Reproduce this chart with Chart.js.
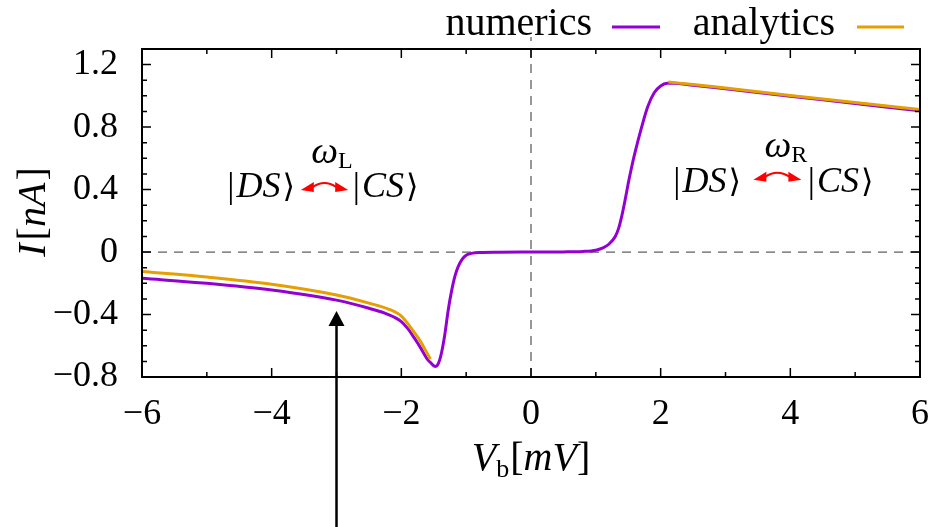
<!DOCTYPE html>
<html>
<head>
<meta charset="utf-8">
<script src="https://cdn.jsdelivr.net/npm/chart.js@4.4.1/dist/chart.umd.min.js"></script>
<style>
  html, body { margin: 0; padding: 0; background: #fff; }
  #wrap { width: 928px; height: 527px; }
</style>
</head>
<body>
<div id="wrap"><canvas id="ivChart"></canvas></div>
<script>
// bias voltage V_b [mV] and current I [nA]
var numX = [-6, -5, -4, -3, -2.5, -2.2, -2, -1.9, -1.8, -1.7, -1.6, -1.54, -1.5, -1.47, -1.43, -1.38, -1.33, -1.28, -1.23, -1.17, -1.12, -1.06, -1.0, -0.9, -0.8, -0.5, 0, 0.5, 0.8, 1.0, 1.1, 1.2, 1.3, 1.35, 1.4, 1.45, 1.5, 1.55, 1.6, 1.7, 1.8, 1.9, 2.0, 2.1, 2.2, 2.5, 3, 4, 5, 6];
var numY = [-0.168, -0.200, -0.243, -0.308, -0.360, -0.400, -0.445, -0.490, -0.550, -0.615, -0.685, -0.712, -0.728, -0.732, -0.715, -0.645, -0.530, -0.380, -0.260, -0.150, -0.090, -0.045, -0.020, -0.007, -0.003, -0.001, 0, 0.001, 0.004, 0.012, 0.025, 0.050, 0.100, 0.150, 0.230, 0.330, 0.440, 0.540, 0.630, 0.790, 0.930, 1.020, 1.063, 1.080, 1.081, 1.068, 1.045, 0.998, 0.951, 0.904];

var anaLeftX = [-6, -5, -4, -3, -2.5, -2.2, -2, -1.9, -1.8, -1.7, -1.6, -1.55];
var anaLeftY = [-0.125, -0.160, -0.206, -0.275, -0.327, -0.365, -0.410, -0.458, -0.515, -0.575, -0.650, -0.685];
var anaRightX = [2.12, 2.5, 3, 4, 5, 6];
var anaRightY = [1.088, 1.073, 1.050, 1.003, 0.957, 0.912];

var xTicks = [-6, -4, -2, 0, 2, 4, 6];
var yTicks = [-0.8, -0.4, 0, 0.4, 0.8, 1.2];

var serif = '"Liberation Serif", "DejaVu Serif", serif';

function pts(xs, ys) {
    return xs.map(function (x, i) { return { x: x, y: ys[i] }; });
}
// left and right branches of the analytic curve, with a gap between
var anaPts = pts(anaLeftX, anaLeftY).concat([{ x: 0, y: null }], pts(anaRightX, anaRightY));

function fmt(v) {
    if (Math.abs(v) < 1e-9) return '0';
    var s = Number.isInteger(v) ? String(v) : v.toFixed(1);
    return s.replace('-', '\u2212');
}

// writes a run of text pieces with mixed italic / sizes / offsets
function rich(ctx, parts, x, y, align) {
    var w = 0;
    parts.forEach(function (p) {
        ctx.font = (p.it ? 'italic ' : '') + (p.size || 34) + 'px ' + serif;
        p.w = ctx.measureText(p.t).width + (p.gap || 0);
        w += p.w;
    });
    var cx = align === 'right' ? x - w : align === 'center' ? x - w / 2 : x;
    ctx.textBaseline = 'alphabetic';
    ctx.textAlign = 'left';
    parts.forEach(function (p) {
        ctx.font = (p.it ? 'italic ' : '') + (p.size || 34) + 'px ' + serif;
        ctx.fillText(p.t, cx, y + (p.dy || 0));
        cx += p.w;
    });
}

// small double-headed red arrow, slightly arched
function redArrow(ctx, x1, x2, y) {
    var len = 13;
    ctx.save();
    ctx.strokeStyle = '#ff0000';
    ctx.fillStyle = '#ff0000';
    ctx.lineWidth = 2;
    ctx.beginPath();
    ctx.moveTo(x1 + len - 1, y - 1);
    ctx.quadraticCurveTo((x1 + x2) / 2, y - 9, x2 - len + 1, y - 1);
    ctx.stroke();
    ctx.beginPath();
    ctx.moveTo(x1, y + 2);
    ctx.lineTo(x1 + len, y - 6);
    ctx.lineTo(x1 + len, y + 4);
    ctx.closePath();
    ctx.fill();
    ctx.beginPath();
    ctx.moveTo(x2, y + 2);
    ctx.lineTo(x2 - len, y - 6);
    ctx.lineTo(x2 - len, y + 4);
    ctx.closePath();
    ctx.fill();
    ctx.restore();
}

var framePlugin = {
    id: 'frame',
    beforeDatasetsDraw: function (chart) {
        var ctx = chart.ctx, a = chart.chartArea;
        var xs = chart.scales.x, ys = chart.scales.y;
        ctx.save();
        ctx.strokeStyle = '#606060';
        ctx.lineWidth = 1.3;
        ctx.setLineDash([9, 7]);
        ctx.beginPath();
        ctx.moveTo(a.left, ys.getPixelForValue(0));
        ctx.lineTo(a.right, ys.getPixelForValue(0));
        ctx.moveTo(xs.getPixelForValue(0), a.bottom);
        ctx.lineTo(xs.getPixelForValue(0), a.top - 12);
        ctx.stroke();
        ctx.restore();
    },
    afterDatasetsDraw: function (chart) {
        var ctx = chart.ctx, a = chart.chartArea;
        var xs = chart.scales.x, ys = chart.scales.y;
        ctx.save();
        ctx.strokeStyle = '#000';
        ctx.lineWidth = 2;
        ctx.strokeRect(a.left, a.top, a.right - a.left, a.bottom - a.top);
        ctx.lineWidth = 1.5;
        ctx.beginPath();
        var v, p, L;
        for (v = -6; v <= 6.001; v += 1) {
            p = xs.getPixelForValue(v);
            L = Math.abs(v % 2) < 1e-6 ? 9 : 5;
            ctx.moveTo(p, a.bottom); ctx.lineTo(p, a.bottom - L);
            ctx.moveTo(p, a.top); ctx.lineTo(p, a.top + L);
        }
        for (var k = -8; k <= 13; k++) {
            p = ys.getPixelForValue(k / 10);
            L = k % 4 === 0 ? 9 : 5;
            ctx.moveTo(a.left, p); ctx.lineTo(a.left + L, p);
            ctx.moveTo(a.right, p); ctx.lineTo(a.right - L, p);
        }
        ctx.stroke();

        // black pointer arrow at V_b = -3
        var ax = xs.getPixelForValue(-3);
        var tip = ys.getPixelForValue(-0.377);
        ctx.fillStyle = '#000';
        ctx.lineWidth = 2.5;
        ctx.beginPath();
        ctx.moveTo(ax, tip + 12);
        ctx.lineTo(ax, chart.height + 5);
        ctx.stroke();
        ctx.beginPath();
        ctx.moveTo(ax, tip);
        ctx.lineTo(ax - 8, tip + 15);
        ctx.lineTo(ax + 8, tip + 15);
        ctx.closePath();
        ctx.fill();

        // state labels
        ctx.fillStyle = '#000';
        var ket = function (s) {
            return [{ t: '|', size: 36, gap: 2 }, { t: s, it: true, size: 36, gap: 2 }, { t: '\u27E9', size: 32 }];
        };
        rich(ctx, ket('DS'), xs.getPixelForValue(-3.64), ys.getPixelForValue(0.35), 'right');
        rich(ctx, ket('CS'), xs.getPixelForValue(-2.75), ys.getPixelForValue(0.35), 'left');
        redArrow(ctx, xs.getPixelForValue(-3.55), xs.getPixelForValue(-2.82), ys.getPixelForValue(0.41));
        rich(ctx, [{ t: '\u03C9', it: true, size: 38 }, { t: 'L', size: 24, dy: 5 }], xs.getPixelForValue(-3.07), ys.getPixelForValue(0.57), 'center');

        rich(ctx, ket('DS'), xs.getPixelForValue(3.24), ys.getPixelForValue(0.387), 'right');
        rich(ctx, ket('CS'), xs.getPixelForValue(4.27), ys.getPixelForValue(0.387), 'left');
        redArrow(ctx, xs.getPixelForValue(3.43), xs.getPixelForValue(4.17), ys.getPixelForValue(0.476));
        rich(ctx, [{ t: '\u03C9', it: true, size: 38 }, { t: 'R', size: 24, dy: 5 }], xs.getPixelForValue(3.93), ys.getPixelForValue(0.61), 'center');

        // axis titles
        rich(ctx, [{ t: 'V', it: true, size: 40 }, { t: 'b', size: 26, dy: 7, gap: 1 }, { t: '[', size: 40 }, { t: 'mV', it: true, size: 40 }, { t: ']', size: 40 }],
            xs.getPixelForValue(0), 470, 'center');
        ctx.save();
        ctx.translate(45, 212);
        ctx.rotate(-Math.PI / 2);
        rich(ctx, [{ t: 'I', it: true, size: 40, gap: 3 }, { t: '[', size: 40 }, { t: 'nA', it: true, size: 40, gap: 2 }, { t: ']', size: 40 }], 0, 0, 'center');
        ctx.restore();

        // key, gnuplot style: text then sample line
        rich(ctx, [{ t: 'numerics', size: 40 }], 592, 35, 'right');
        rich(ctx, [{ t: 'analytics', size: 40 }], 835, 35, 'right');
        ctx.lineWidth = 3;
        ctx.strokeStyle = '#9400d3';
        ctx.beginPath(); ctx.moveTo(612, 27); ctx.lineTo(660, 27); ctx.stroke();
        ctx.strokeStyle = '#e69f00';
        ctx.beginPath(); ctx.moveTo(857, 27); ctx.lineTo(904, 27); ctx.stroke();
        ctx.restore();
    }
};

document.addEventListener('DOMContentLoaded', function () {
    var ctx = document.getElementById('ivChart').getContext('2d');
    var ivChart = new Chart(ctx, {
        type: 'scatter',
        data: {
            datasets: [{
                label: 'numerics',
                data: pts(numX, numY),
                showLine: true,
                borderColor: '#9400d3',
                borderWidth: 3,
                pointRadius: 0,
                cubicInterpolationMode: 'monotone',
                order: 1
            }, {
                label: 'analytics',
                data: anaPts,
                showLine: true,
                spanGaps: false,
                borderColor: '#e69f00',
                borderWidth: 3,
                pointRadius: 0,
                cubicInterpolationMode: 'monotone',
                order: 0
            }]
        },
        options: {
            responsive: true,
            maintainAspectRatio: false,
            animation: false,
            layout: { padding: { top: 49, right: 8, left: 0, bottom: 0 } },
            plugins: { legend: { display: false }, tooltip: { enabled: false } },
            scales: {
                x: {
                    type: 'linear', min: -6, max: 6,
                    grid: { display: false, drawTicks: false },
                    border: { display: false },
                    afterBuildTicks: function (s) { s.ticks = xTicks.map(function (v) { return { value: v }; }); },
                    afterFit: function (s) { s.height = 150; s.paddingLeft = 0; s.paddingRight = 0; },
                    ticks: {
                        padding: 16, color: '#000', maxRotation: 0,
                        font: { family: serif, size: 36 },
                        callback: function (v) { return fmt(v); }
                    }
                },
                y: {
                    type: 'linear', min: -0.8, max: 1.3,
                    grid: { display: false, drawTicks: false },
                    border: { display: false },
                    afterBuildTicks: function (s) { s.ticks = yTicks.map(function (v) { return { value: v }; }); },
                    afterFit: function (s) { s.width = 142; s.paddingTop = 0; s.paddingBottom = 0; },
                    ticks: {
                        padding: 24, color: '#000',
                        font: { family: serif, size: 36 },
                        callback: function (v) { return fmt(v); }
                    }
                }
            }
        },
        plugins: [framePlugin]
    });
});
</script>
</body>
</html>
